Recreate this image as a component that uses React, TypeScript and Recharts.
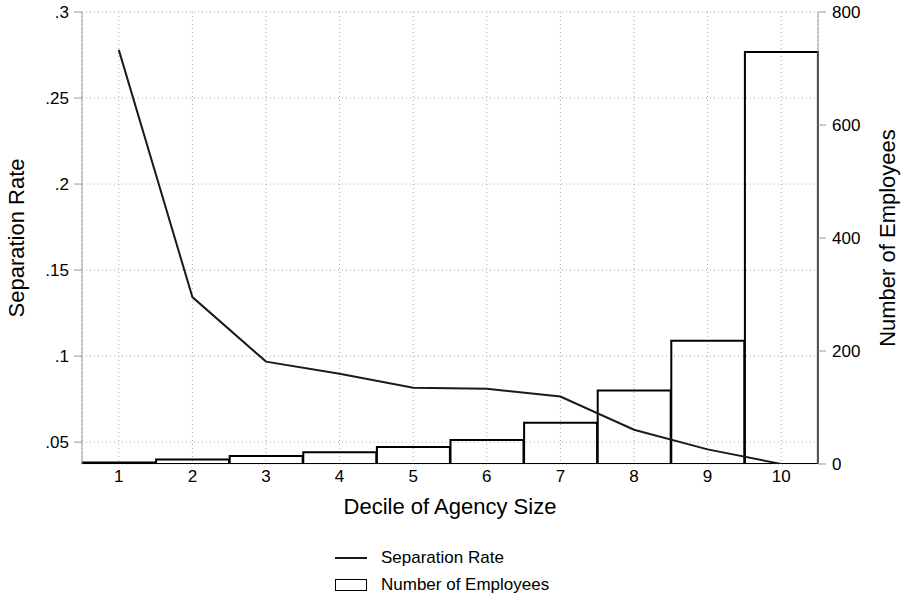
import { ComposedChart, Bar, Line, XAxis, YAxis, CartesianGrid } from 'recharts'

// values
const deciles = ['1', '2', '3', '4', '5', '6', '7', '8', '9', '10']
const separationRate = [0.278, 0.1343, 0.0968, 0.0897, 0.0816, 0.081, 0.0765, 0.0572, 0.0458, 0.0373]
const employees = [2.5, 8, 14, 21, 30, 42.5, 73, 130, 218, 729]
const rateTicks = [0.05, 0.1, 0.15, 0.2, 0.25, 0.3]
const employeeTicks = [0, 200, 400, 600, 800]

const data = deciles.map((d, i) => ({
    decile: d,
    rate: separationRate[i],
    count: employees[i],
}))

const font = '"Liberation Sans", Arial, Helvetica, sans-serif'

const fmtRate = (v: number) => v.toFixed(2).replace(/^0/, '').replace(/0$/, '')

export default function App() {
    return (
        <div style={{ position: 'absolute', left: 0, top: 0, width: 907, height: 600, background: '#fff', fontFamily: font }}>
            <ComposedChart
                width={907}
                height={600}
                data={data}
                margin={{ top: 12, right: 0, bottom: 0, left: 0 }}
                barCategoryGap={0.5}
                barGap={0}
            >
                <CartesianGrid yAxisId="left" stroke="#aaa" strokeDasharray="1 3" />
                <XAxis
                    dataKey="decile"
                    height={136}
                    axisLine={false}
                    tickLine={false}
                    tickSize={0}
                    tickMargin={6}
                    tick={{ fill: '#000', fontSize: 17, fontFamily: font }}
                />
                <YAxis
                    yAxisId="left"
                    orientation="left"
                    width={82}
                    domain={[0.0373, 0.3]}
                    ticks={rateTicks}
                    allowDataOverflow
                    tickFormatter={fmtRate}
                    stroke="#999"
                    tickSize={8}
                    tickMargin={5}
                    tick={{ fill: '#000', fontSize: 17, fontFamily: font }}
                />
                <YAxis
                    yAxisId="right"
                    orientation="right"
                    width={89}
                    domain={[0, 800]}
                    ticks={employeeTicks}
                    allowDataOverflow
                    stroke="#999"
                    tickSize={8}
                    tickMargin={6}
                    tick={{ fill: '#000', fontSize: 17, fontFamily: font }}
                />
                <Bar
                    yAxisId="right"
                    dataKey="count"
                    fill="none"
                    stroke="#000"
                    strokeWidth={2}
                    isAnimationActive={false}
                />
                <Line
                    yAxisId="left"
                    type="linear"
                    dataKey="rate"
                    stroke="#1a1a1a"
                    strokeWidth={2}
                    dot={false}
                    activeDot={false}
                    isAnimationActive={false}
                />
            </ComposedChart>

            <div style={{ position: 'absolute', left: 17, top: 238, transform: 'translate(-50%, -50%) rotate(-90deg)', fontSize: 22, whiteSpace: 'nowrap' }}>
                Separation Rate
            </div>
            <div style={{ position: 'absolute', left: 888, top: 238, transform: 'translate(-50%, -50%) rotate(-90deg)', fontSize: 22, whiteSpace: 'nowrap' }}>
                Number of Employees
            </div>
            <div style={{ position: 'absolute', left: 450, top: 507, transform: 'translate(-50%, -50%)', fontSize: 22, whiteSpace: 'nowrap' }}>
                Decile of Agency Size
            </div>

            <div style={{ position: 'absolute', left: 335, top: 547, fontSize: 17, lineHeight: '21px' }}>
                <div style={{ display: 'flex', alignItems: 'center', height: 21 }}>
                    <span style={{ width: 32, height: 0, borderTop: '2px solid #1a1a1a', marginRight: 14 }} />
                    <span>Separation Rate</span>
                </div>
                <div style={{ display: 'flex', alignItems: 'center', height: 21, marginTop: 6 }}>
                    <span style={{ width: 30, height: 10, border: '1.5px solid #000', marginRight: 14 }} />
                    <span>Number of Employees</span>
                </div>
            </div>
        </div>
    )
}
